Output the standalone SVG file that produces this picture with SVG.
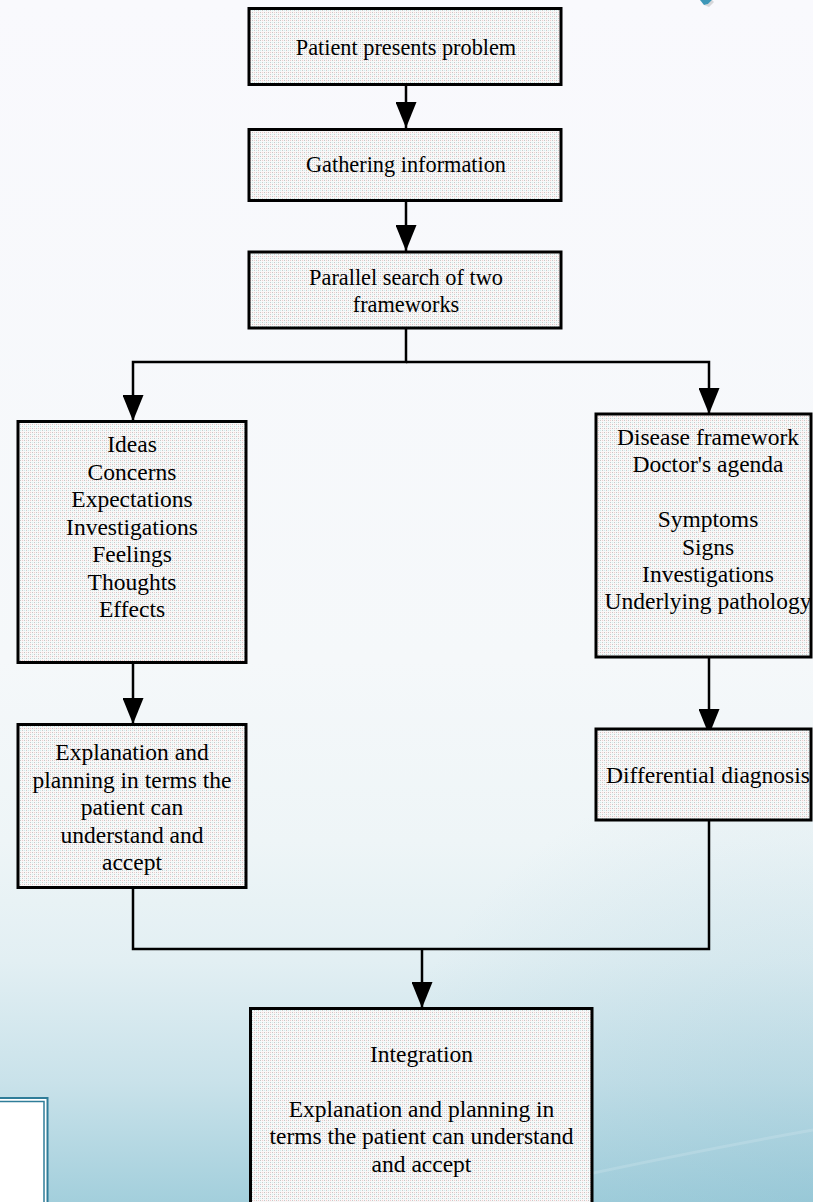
<svg xmlns="http://www.w3.org/2000/svg" width="813" height="1202" viewBox="0 0 813 1202">
  <defs>
    <linearGradient id="bg" x1="0" y1="0" x2="0" y2="1">
      <stop offset="0" stop-color="#f9f9fd"/>
      <stop offset="0.55" stop-color="#f5f8fa"/>
      <stop offset="0.7" stop-color="#eef5f7"/>
      <stop offset="0.8" stop-color="#e2eff3"/>
      <stop offset="0.9" stop-color="#c9e2ea"/>
      <stop offset="1" stop-color="#a3cfdc"/>
    </linearGradient>
    <radialGradient id="bgside" cx="813" cy="1202" r="450" gradientUnits="userSpaceOnUse">
      <stop offset="0" stop-color="#7fb8cc" stop-opacity="0.3"/>
      <stop offset="1" stop-color="#7fb8cc" stop-opacity="0"/>
    </radialGradient>
    <pattern id="dots" width="4" height="4" patternUnits="userSpaceOnUse">
      <rect width="4" height="4" fill="#f8f8f8"/>
      <rect x="0" y="0" width="1" height="1" fill="#c6c6c6"/>
      <rect x="2" y="2" width="1" height="1" fill="#cacaca"/>
      <rect x="2" y="0" width="1" height="1" fill="#f2cccc"/>
      <rect x="0" y="2" width="1" height="1" fill="#cdeeee"/>
    </pattern>
    <marker id="ah" viewBox="0 0 26 21" refX="26" refY="10.5" markerWidth="26" markerHeight="21" markerUnits="userSpaceOnUse" orient="auto">
      <path d="M0,0 L26,10.5 L0,21 z" fill="#000"/>
    </marker>
    <style>
      .box { fill: url(#dots); stroke: #000; stroke-width: 3; }
      .t { font-family: "Liberation Serif", "Times New Roman", serif; font-size: 23.5px; fill: #000; text-anchor: middle; }
      .ts { font-size: 22.3px; }
      .con { fill: none; stroke: #000; stroke-width: 2.5; }
    </style>
  </defs>

  <rect width="813" height="1202" fill="url(#bg)"/>
  <rect width="813" height="1202" fill="url(#bgside)"/>
  <path d="M560,1180 Q700,1150 813,1130" fill="none" stroke="#ffffff" stroke-opacity="0.15" stroke-width="3"/>

  <!-- top-right decoration -->
  <path d="M700,0 L712,0 L708,4 L704,5 Z" fill="#3d97b8"/>
  <path d="M704,5 L708,4 L712,0 L714,2 L709,7 Z" fill="#999" opacity="0.35"/>

  <!-- bottom-left frame -->
  <g id="frame">
    <rect x="-10" y="1098" width="57.5" height="120" fill="#ffffff" stroke="#2f7d99" stroke-width="2"/>
    <rect x="-10" y="1101.5" width="54" height="120" fill="#ffffff" stroke="#2f7d99" stroke-width="1.5"/>
  </g>

  <g id="connectors">
    <path class="con" d="M406,85 V128" marker-end="url(#ah)"/>
    <path class="con" d="M406,201 V251" marker-end="url(#ah)"/>
    <path class="con" d="M406,328 V362 H133 V421" marker-end="url(#ah)"/>
    <path class="con" d="M406,362 H709 V414" marker-end="url(#ah)"/>
    <path class="con" d="M133,663 V724" marker-end="url(#ah)"/>
    <path class="con" d="M709,657 V735" marker-end="url(#ah)"/>
    <path class="con" d="M133,888 V949 H709 V820"/>
    <path class="con" d="M422,949 V1008" marker-end="url(#ah)"/>
  </g>

  <g id="n1">
    <rect class="box" x="249" y="8.5" width="312" height="76"/>
    <text class="t ts" x="406" y="55">Patient presents problem</text>
  </g>
  <g id="n2">
    <rect class="box" x="249" y="129.5" width="312" height="71"/>
    <text class="t ts" x="406" y="172">Gathering information</text>
  </g>
  <g id="n3">
    <rect class="box" x="249" y="252" width="312" height="76"/>
    <text class="t ts" x="406" y="285">Parallel search of two</text>
    <text class="t ts" x="406" y="312">frameworks</text>
  </g>
  <g id="n4">
    <rect class="box" x="18" y="421.5" width="228" height="241"/>
    <text class="t" x="132" y="452">Ideas</text>
    <text class="t" x="132" y="479.5">Concerns</text>
    <text class="t" x="132" y="507">Expectations</text>
    <text class="t" x="132" y="534.5">Investigations</text>
    <text class="t" x="132" y="562">Feelings</text>
    <text class="t" x="132" y="589.5">Thoughts</text>
    <text class="t" x="132" y="617">Effects</text>
  </g>
  <g id="n5">
    <rect class="box" x="596" y="414" width="215" height="243"/>
    <text class="t" x="708" y="445">Disease framework</text>
    <text class="t" x="708" y="472">Doctor's agenda</text>
    <text class="t" x="708" y="527">Symptoms</text>
    <text class="t" x="708" y="554.5">Signs</text>
    <text class="t" x="708" y="582">Investigations</text>
    <text class="t" x="708" y="609">Underlying pathology</text>
  </g>
  <g id="n6">
    <rect class="box" x="18" y="724.5" width="228" height="163"/>
    <text class="t" x="132" y="760">Explanation and</text>
    <text class="t" x="132" y="787.5">planning in terms the</text>
    <text class="t" x="132" y="815">patient can</text>
    <text class="t" x="132" y="842.5">understand and</text>
    <text class="t" x="132" y="870">accept</text>
  </g>
  <g id="n7">
    <rect class="box" x="596" y="729" width="215" height="91"/>
    <text class="t" x="708" y="783">Differential diagnosis</text>
  </g>
  <g id="n8">
    <rect class="box" x="250.5" y="1008.5" width="341.5" height="210"/>
    <text class="t" x="421.5" y="1062">Integration</text>
    <text class="t" x="421.5" y="1117">Explanation and planning in</text>
    <text class="t" x="421.5" y="1144">terms the patient can understand</text>
    <text class="t" x="421.5" y="1172">and accept</text>
  </g>
</svg>
